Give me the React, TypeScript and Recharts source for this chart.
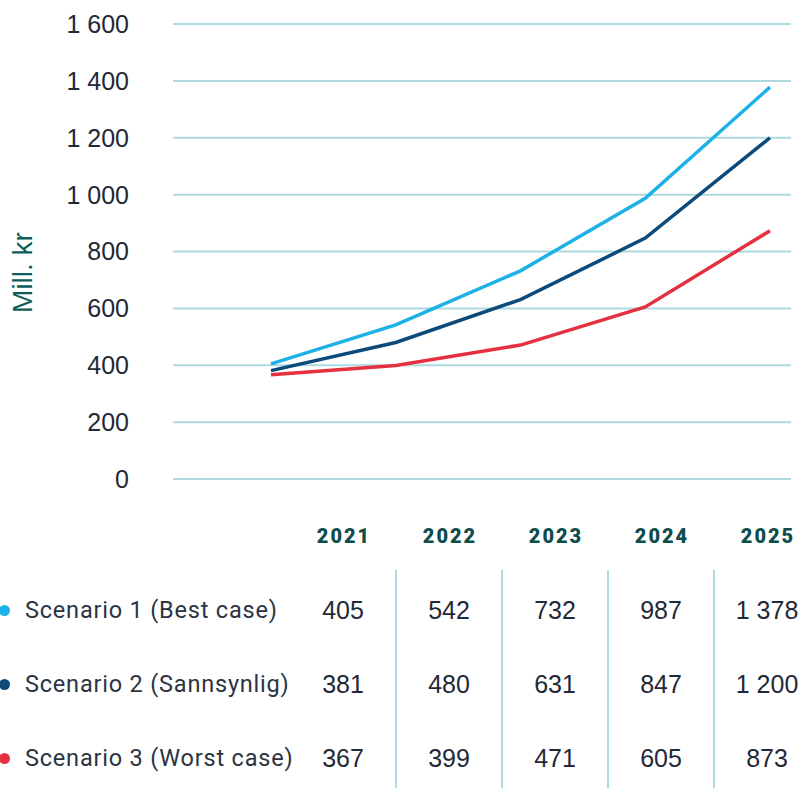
import React from 'react';
import { LineChart, Line, XAxis, YAxis, CartesianGrid } from 'recharts';

const years = ['2021', '2022', '2023', '2024', '2025'];
const scenario1 = [405, 542, 732, 987, 1378];
const scenario2 = [381, 480, 631, 847, 1200];
const scenario3 = [367, 399, 471, 605, 873];
const seriesNames = ['Scenario 1 (Best case)', 'Scenario 2 (Sannsynlig)', 'Scenario 3 (Worst case)'];
const seriesColors = ['#1cb1e7', '#0b4a7b', '#e5303f'];
const yTicks = [0, 200, 400, 600, 800, 1000, 1200, 1400, 1600];
const yLabel = 'Mill. kr';

const fmt = (n: number): string =>
  n >= 1000 ? `${Math.floor(n / 1000)} ${String(n % 1000).padStart(3, '0')}` : String(n);

const data = years.map((y, i) => ({ year: y, s1: scenario1[i], s2: scenario2[i], s3: scenario3[i] }));
const seriesValues = [scenario1, scenario2, scenario3];
const keys = ['s1', 's2', 's3'];

const COL_LEFT = 290;
const COL_W = 106;
const ROW_TOP = 573;
const ROW_H = 74;

export default function App() {
  return (
    <div style={{ position: 'absolute', left: 0, top: 0, width: 802, height: 788, background: '#fff', overflow: 'hidden' }}>
      <LineChart width={802} height={500} data={data} margin={{ top: 24, right: 11, bottom: 21, left: 0 }}>
        <CartesianGrid vertical={false} stroke="#acdade" strokeWidth={2} />
        <XAxis dataKey="year" hide padding={{ left: 98, right: 21 }} />
        <YAxis
          width={173}
          domain={[0, 1600]}
          ticks={yTicks}
          tickFormatter={fmt}
          axisLine={false}
          tickLine={false}
          tickSize={0}
          tickMargin={44}
          tick={{ fill: '#1f2937', fontSize: 25, fontFamily: '"Liberation Sans", Arial, sans-serif' }}
          label={{
            content: (props: any) => {
              const vb = props.viewBox || { x: 0, y: 24, width: 173, height: 455 };
              const cx = vb.x + 22;
              const cy = vb.y + vb.height / 2 + 21;
              return (
                <text
                  x={cx}
                  y={cy}
                  transform={`rotate(-90, ${cx}, ${cy})`}
                  textAnchor="middle"
                  dominantBaseline="central"
                  fill="#0e5b5b"
                  fontSize={28}
                  fontFamily='"Liberation Sans", Arial, sans-serif'
                >
                  {yLabel}
                </text>
              );
            },
          }}
        />
        {keys.map((k, i) => (
          <Line
            key={k}
            type="linear"
            dataKey={k}
            stroke={seriesColors[i]}
            strokeWidth={3.5}
            dot={false}
            activeDot={false}
            isAnimationActive={false}
          />
        ))}
      </LineChart>

      <div style={{ position: 'absolute', top: 520, left: COL_LEFT, display: 'flex' }}>
        {years.map((y) => (
          <div
            key={y}
            style={{
              width: COL_W,
              height: 32,
              lineHeight: '32px',
              textAlign: 'center',
              fontFamily: 'Roboto, sans-serif',
              fontWeight: 900,
              fontSize: 20,
              letterSpacing: 2,
              color: '#0f4d4d',
              textIndent: 2,
            }}
          >
            {y}
          </div>
        ))}
      </div>

      {years.slice(1).map((y, i) => (
        <div
          key={'sep' + y}
          style={{
            position: 'absolute',
            left: COL_LEFT + COL_W * (i + 1) - 1,
            top: 570,
            width: 2,
            height: 218,
            background: '#acdade',
          }}
        />
      ))}

      {seriesNames.map((name, r) => (
        <div
          key={name}
          style={{ position: 'absolute', left: 0, top: ROW_TOP + r * ROW_H, height: ROW_H, display: 'flex', alignItems: 'center' }}
        >
          <div style={{ width: COL_LEFT, position: 'relative', height: ROW_H, display: 'flex', alignItems: 'center' }}>
            <div
              style={{
                position: 'absolute',
                left: -1,
                top: ROW_H / 2 - 5.5,
                width: 11,
                height: 11,
                borderRadius: '50%',
                background: seriesColors[r],
              }}
            />
            <span
              style={{
                paddingLeft: 25,
                fontFamily: 'Roboto, sans-serif',
                fontSize: 23.5,
                letterSpacing: 0.8,
                color: '#2b3442',
                whiteSpace: 'nowrap',
              }}
            >
              {name}
            </span>
          </div>
          {seriesValues[r].map((v, c) => (
            <div
              key={c}
              style={{
                width: COL_W,
                textAlign: 'center',
                fontFamily: '"Liberation Sans", Arial, sans-serif',
                fontSize: 25,
                color: '#1f2937',
                whiteSpace: 'nowrap',
              }}
            >
              {fmt(v)}
            </div>
          ))}
        </div>
      ))}
    </div>
  );
}
